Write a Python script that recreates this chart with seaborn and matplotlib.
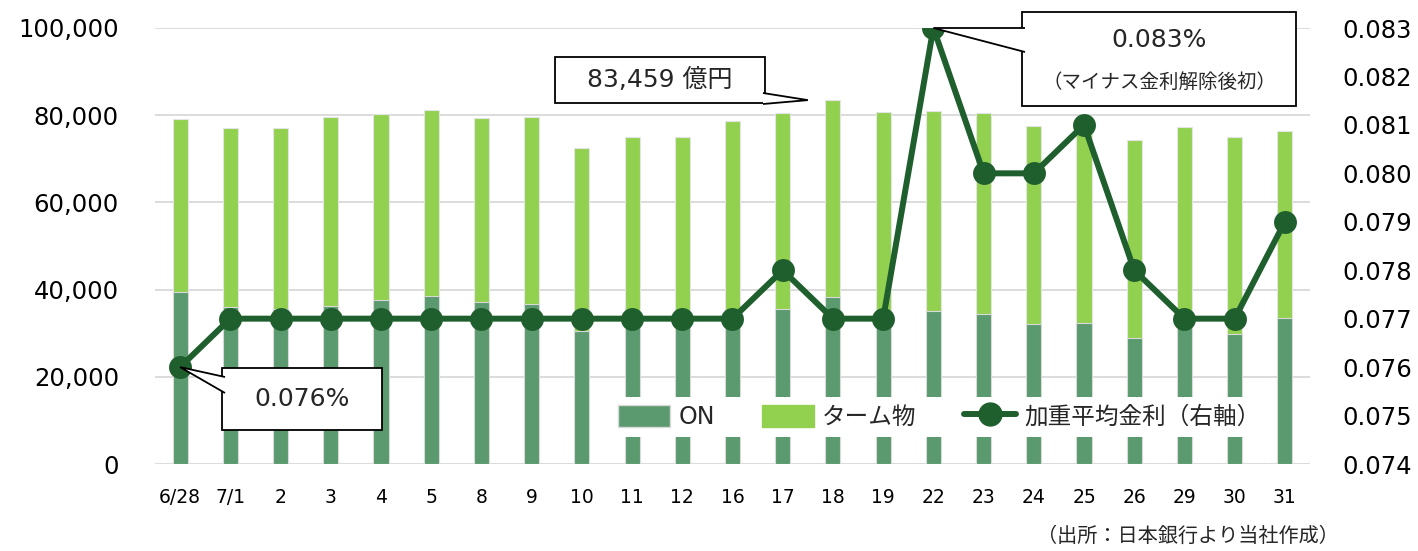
import numpy as np
import pandas as pd
import seaborn as sns
import matplotlib.pyplot as plt
from matplotlib.patches import Patch, Polygon, Rectangle
from matplotlib.lines import Line2D
from matplotlib.ticker import FuncFormatter

# データ（億円・%）
dates = ['6/28', '7/1', '2', '3', '4', '5', '8', '9', '10', '11', '12', '16',
         '17', '18', '19', '22', '23', '24', '25', '26', '29', '30', '31']
total = [79100, 77100, 77000, 79600, 80300, 81300, 79400, 79500, 72400, 75100,
         74900, 78700, 80500, 83459, 80800, 81000, 80600, 77500, 77800, 74300,
         77300, 75000, 76300]
on = [39400, 36100, 35500, 36300, 37600, 38600, 37100, 36800, 30400, 32500,
      32500, 34000, 35600, 38400, 33500, 35200, 34400, 32100, 32300, 28800,
      32800, 29800, 33400]
rate = [0.076, 0.077, 0.077, 0.077, 0.077, 0.077, 0.077, 0.077, 0.077, 0.077,
        0.077, 0.077, 0.078, 0.077, 0.077, 0.083, 0.080, 0.080, 0.081, 0.078,
        0.077, 0.077, 0.079]

c_on = '#5b9a6e'
c_term = '#92d050'
c_line = '#1f5f2e'
c_grid = '#d9d9d9'

sns.set_style('white')
plt.rcParams['font.family'] = ['DejaVu Sans', 'Noto Sans CJK JP']

W, H = 1418, 551
fig, ax = plt.subplots(figsize=(W / 100, H / 100), dpi=100)
fig.subplots_adjust(left=155 / W, right=1310 / W, bottom=1 - 464 / H, top=1 - 28 / H)

df = pd.DataFrame({'date': dates, 'total': total, 'on': on})
sns.barplot(data=df, x='date', y='total', color=c_term, width=0.3,
            edgecolor='#e4e4e4', linewidth=0.8, saturation=1, ax=ax)
sns.barplot(data=df, x='date', y='on', color=c_on, width=0.3,
            edgecolor=c_grid, linewidth=0.8, saturation=1, ax=ax)
ax.set_ylim(0, 100000)
ax.set_yticks(np.arange(0, 100001, 20000))
ax.yaxis.set_major_formatter(FuncFormatter(lambda v, p: f'{v:,.0f}'))
ax.grid(axis='y', color=c_grid, lw=1.3)
ax.set_axisbelow(True)
ax.set_xlabel('')
ax.set_ylabel('')
ax.tick_params(axis='y', length=0, pad=26, labelsize=17.5, labelcolor='black')
ax.tick_params(axis='x', length=0, pad=17, labelsize=13.5, labelcolor='black')

ax2 = ax.twinx()
sns.lineplot(x=np.arange(len(dates)), y=rate, ax=ax2, color=c_line, lw=4.3,
             marker='o', markersize=16.5, markeredgewidth=0)
ax2.set_ylim(0.074, 0.083)
ax2.set_yticks(np.arange(0.074, 0.08301, 0.001))
ax2.yaxis.set_major_formatter(FuncFormatter(lambda v, p: f'{v:.3f}'))
ax2.tick_params(axis='y', length=0, pad=23, labelsize=17.5, labelcolor='black')
ax2.set_ylabel('')
ax2.grid(False)
ax.set_xlim(-0.5, len(dates) - 0.5)

for a in (ax, ax2):
    for s in a.spines.values():
        s.set_visible(False)

handles = [Patch(facecolor=c_on, edgecolor=c_grid),
           Patch(facecolor=c_term, edgecolor=c_term),
           Line2D([], [], color=c_line, lw=4.3, marker='o', markersize=16.5)]
leg = ax2.legend(handles, ['ON', 'ターム物', '加重平均金利（右軸）'], ncol=3,
                 loc='center', bbox_to_anchor=(0.679, 0.108), fontsize=17,
                 frameon=True, fancybox=False, framealpha=1, facecolor='white',
                 edgecolor='none', handlelength=2.2, handleheight=1.05,
                 handletextpad=0.35, columnspacing=2.0, borderpad=0.35,
                 borderaxespad=0)
leg.set_zorder(10)


# 吹き出し
def fp(x, y):
    return (x / W, 1 - y / H)


def to_fig(a, pt):
    return fig.transFigure.inverted().transform(a.transData.transform(pt))


def callout(box, base, a, tip):
    x0, y0, x1, y1 = box
    fig.add_artist(Rectangle(fp(x0, y1), (x1 - x0) / W, (y1 - y0) / H,
                             transform=fig.transFigure, facecolor='white',
                             edgecolor='black', lw=1.3, zorder=5))
    pts = [fp(*base[0]), to_fig(a, tip), fp(*base[1])]
    fig.add_artist(Polygon(pts, closed=False, transform=fig.transFigure,
                           facecolor='white', edgecolor='black', lw=1.3, zorder=6))


callout((222, 368, 382, 430), [(225, 377), (225, 393)], ax2, (0, rate[0]))
callout((555, 57, 765, 103), [(763, 93), (763, 104)], ax, (12.5, total[13]))
callout((1022, 12, 1296, 106), [(1025, 28), (1025, 52)], ax2, (15, rate[15]))

fig.text(*fp(302, 399), '0.076%', fontsize=18, ha='center', va='center', zorder=7)
fig.text(*fp(660, 80), f'{total[13]:,} 億円', fontsize=18, ha='center', va='center', zorder=7)
fig.text(*fp(1159, 40), f'{rate[15]:.3f}%', fontsize=18, ha='center', va='center', zorder=7)
fig.text(*fp(1159, 82), '（マイナス金利解除後初）', fontsize=14, ha='center',
         va='center', zorder=7)
fig.text(*fp(1037, 527), '（出所：日本銀行より当社作成）', fontsize=14.5, ha='left',
         va='top')

fig.savefig('out.png', dpi=100)
